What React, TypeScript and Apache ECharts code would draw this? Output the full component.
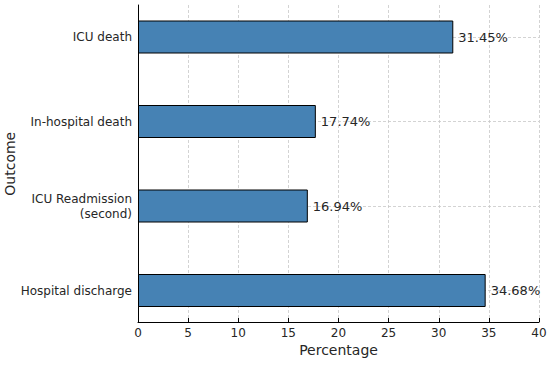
import React, { useEffect, useRef } from "react";
import * as echarts from "echarts";

const categories = ["ICU death", "In-hospital death", "ICU Readmission\n(second)", "Hospital discharge"];
const percentages = [31.45, 17.74, 16.94, 34.68];
const xTickMin = 0;
const xTickMax = 40;
const xTickStep = 5;

const FONT = "DejaVu Sans";
const TEXT = "#262626";
const GRIDLINE = { show: true, lineStyle: { color: "#c8c8c8", type: [3, 2] as any, width: 0.8 } };

export default function App() {
  const ref = useRef<HTMLDivElement>(null);
  useEffect(() => {
    if (!ref.current) return;
    const chart = echarts.init(ref.current, undefined, { renderer: "svg" });
    chart.setOption({
      animation: false,
      backgroundColor: "#ffffff",
      textStyle: { fontFamily: FONT },
      grid: [
        { left: 138, right: 11, top: 5, bottom: 43, containLabel: false, outerBoundsMode: "none" },
        { left: 138, right: 11, top: 37, bottom: 74.5, containLabel: false, outerBoundsMode: "none" },
      ],
      xAxis: [
        {
          type: "value",
          gridIndex: 0,
          min: xTickMin,
          max: xTickMax,
          interval: xTickStep,
          axisLine: { show: true, lineStyle: { color: "#000", width: 1 } },
          axisTick: { show: true, inside: true, length: 4, lineStyle: { color: "#000" } },
          axisLabel: { fontFamily: FONT, fontSize: 12, color: TEXT, margin: 5 },
          splitLine: GRIDLINE,
          name: "Percentage",
          nameLocation: "middle",
          nameGap: 21,
          nameMoveOverlap: false,
          nameTextStyle: { fontFamily: FONT, fontSize: 14, color: TEXT },
        },
        {
          type: "value",
          gridIndex: 1,
          min: xTickMin,
          max: xTickMax,
          show: false,
        },
      ],
      yAxis: [
        {
          type: "value",
          gridIndex: 0,
          min: 0,
          max: 1,
          axisLine: { show: true, lineStyle: { color: "#000", width: 1 } },
          axisTick: { show: false },
          axisLabel: { show: false },
          splitLine: { show: false },
        },
        {
          type: "category",
          gridIndex: 1,
          data: categories,
          inverse: true,
          boundaryGap: false,
          axisLine: { show: false },
          axisTick: { show: false },
          axisLabel: { fontFamily: FONT, fontSize: 12, color: TEXT, margin: 6, lineHeight: 15 },
          splitLine: GRIDLINE,
          name: "Outcome",
          nameLocation: "middle",
          nameGap: 121,
          nameMoveOverlap: false,
          nameRotate: 90,
          nameTextStyle: { fontFamily: FONT, fontSize: 14, color: TEXT },
        },
      ],
      series: [
        {
          type: "bar",
          xAxisIndex: 1,
          yAxisIndex: 1,
          data: percentages,
          barWidth: 33,
          clip: false,
          itemStyle: { color: "#4682B4", borderColor: "#000", borderWidth: 1 },
          label: {
            show: true,
            position: "right",
            distance: 5,
            formatter: "{c}%",
            fontFamily: FONT,
            fontSize: 13,
            color: TEXT,
          },
        },
      ],
    });
    return () => chart.dispose();
  }, []);
  return <div ref={ref} style={{ position: "fixed", left: 0, top: 0, width: 550, height: 365 }} />;
}
